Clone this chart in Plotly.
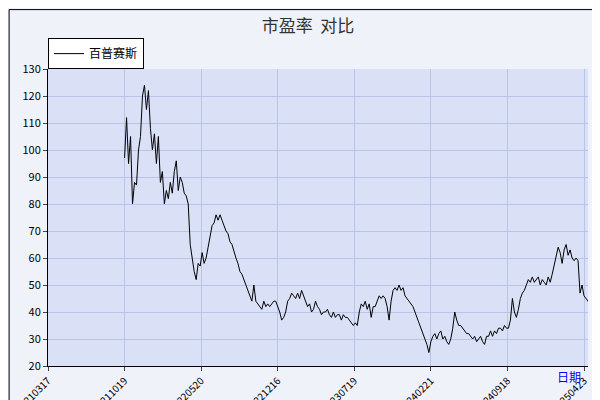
import plotly.graph_objects as go

# P/E ratio series, roughly every other trading day
pe_values = [
    97, 112, 95, 105, 80, 88, 87, 100, 105, 120, 124, 115, 122, 108, 100, 106, 95, 105, 88, 92,
    80, 85, 82, 88, 84, 92, 96, 85, 90, 88, 84, 83, 80, 65, 60, 55, 52, 58, 57, 62,
    58, 60, 64, 68, 72, 73, 76, 74, 76, 74, 72, 70, 69, 66, 65, 62, 60, 58, 55, 54,
    52, 50, 48, 46, 44, 50, 44, 43, 42, 41, 44, 42, 43, 42, 43, 44, 44, 42, 40, 37,
    38, 40, 44, 45, 47, 46, 45, 47, 45, 48, 46, 44, 42, 43, 40, 41, 44, 42, 41, 39,
    40, 40, 41, 39, 38, 40, 38, 39, 39, 37, 39, 38, 38, 37, 36, 35, 36, 35, 40, 43,
    42, 44, 41, 43, 38, 42, 42, 44, 46, 45, 46, 45, 42, 37, 44, 48, 49, 48, 50, 48,
    49, 46, 45, 44, 43, 42, 40, 38, 36, 34, 32, 30, 28, 25, 29, 31, 32, 30, 32, 33,
    30, 31, 29, 28, 30, 34, 40, 37, 35, 35, 34, 33, 32, 32, 31, 30, 31, 29, 30, 31,
    29, 28, 31, 31, 33, 31, 33, 32, 34, 34, 33, 35, 34, 34, 37, 45, 40, 38, 41, 45,
    47, 48, 50, 52, 51, 53, 51, 52, 53, 50, 52, 51, 50, 53, 51, 54, 57, 60, 64, 62,
    58, 63, 65, 61, 63, 60, 59, 60, 59, 47, 50, 46, 45, 44, 43,
]
tick_labels = ["20210317", "20211019", "20220520", "20221216",
               "20230719", "20240221", "20240918", "20250423"]
tick_step = 38.5

x_idx = list(range(len(pe_values)))
tick_pos = [tick_step * (k - 1) for k in range(len(tick_labels))]

fig = go.Figure()
fig.add_trace(go.Scatter(
    x=x_idx, y=pe_values, mode="lines", name="百普赛斯",
    line=dict(color="black", width=1),
))

grid = "#b8c4e8"
fig.update_layout(
    width=600, height=400,
    margin=dict(l=40, r=20, t=61, b=42, autoexpand=False),
    paper_bgcolor="#f0f2fa",
    plot_bgcolor="#dae1f6",
    font=dict(family="Noto Sans CJK SC, DejaVu Sans", size=11, color="black"),
    title=dict(text="市盈率  对比", x=0.5, xanchor="center", y=0.97, yanchor="top",
               font=dict(size=17, color="#333")),
    showlegend=True,
    legend=dict(x=0.0, y=1.104, xanchor="left", yanchor="top",
                bgcolor="white", bordercolor="black", borderwidth=1,
                font=dict(size=12), itemwidth=30),
    xaxis=dict(range=[-38.5, 233], tickmode="array", tickvals=tick_pos, ticktext=tick_labels,
               tickangle=-45, tickfont=dict(size=10), showgrid=True, gridcolor=grid,
               ticks="outside", ticklen=4, showline=True, linecolor="black", zeroline=False,
               automargin=False),
    yaxis=dict(range=[20, 130], dtick=10, showgrid=True, gridcolor=grid,
               ticks="outside", ticklen=4, showline=True, linecolor="black", zeroline=False,
               tickfont=dict(size=11), automargin=False),
)
fig.add_annotation(text="日期", xref="paper", yref="paper", x=0.99, y=-0.07,
                   showarrow=False, font=dict(color="blue", size=12))
fig.add_shape(type="rect", xref="paper", yref="paper", x0=-0.072, x1=1.033, y0=-0.138, y1=1.2,
              line=dict(color="black", width=1), layer="below")

fig.write_html("out.html")
